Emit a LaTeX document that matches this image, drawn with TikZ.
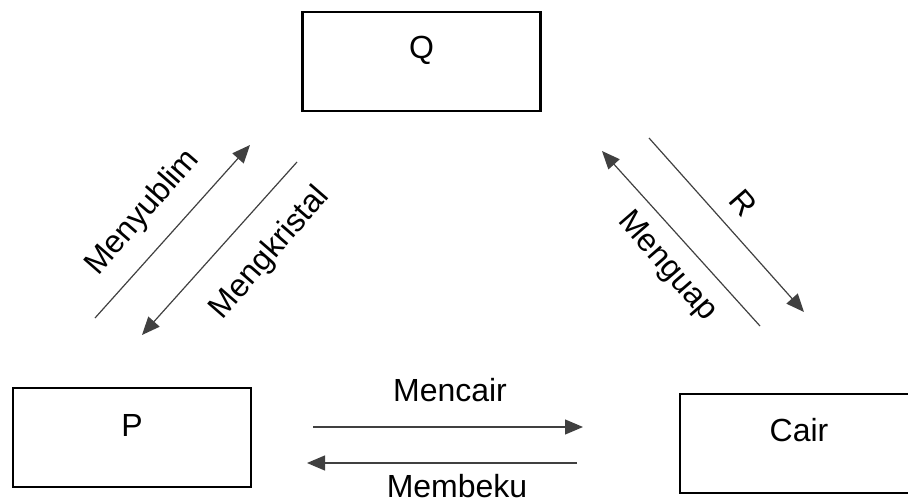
\documentclass[tikz,border=0pt]{standalone}
\usepackage{fontspec}
\setmainfont{Liberation Sans}
\usetikzlibrary{arrows.meta}

\begin{document}
\begin{tikzpicture}[x=1pt,y=-1pt]
\tikzstyle{box}=[draw, line width=2.6pt, minimum width=238pt, minimum height=99pt, inner sep=0pt]
\tikzstyle{txt}=[inner sep=0pt, font=\fontsize{32}{36}\selectfont]
\tikzstyle{arr}=[draw=black!75, line width=1.2pt, -{Triangle[length=18pt,width=15pt]}]
\useasboundingbox (0,0) rectangle (908,503);
\node (Q) at (421.5,61.5) [box] {};
\node (P) at (132,437.5) [box] {};
\node (C) at (799,443.5) [box] {};
\node (Qt) at ([yshift=11pt]Q.center) [txt] {Q};
\node (Pt) at ([yshift=12pt]P.center) [txt] {P};
\node (Ct) at ([yshift=13pt]C.center) [txt] {Cair};
% ends of the arrows
\coordinate (a1) at (95,318);  \coordinate (b1) at (250,145);
\coordinate (a2) at (297,162); \coordinate (b2) at (142,335);
\coordinate (a3) at (760,326); \coordinate (b3) at (602,151);
\coordinate (a4) at (649,138); \coordinate (b4) at (804,312);
\coordinate (a5) at (313,427); \coordinate (b5) at (583,427);
\coordinate (a6) at (577,463); \coordinate (b6) at (307,463);
\draw[arr] (a1) -- (b1);
\draw[arr] (a2) -- (b2);
\draw[arr] (a3) -- (b3);
\draw[arr] (a4) -- (b4);
\draw[arr] (a5) -- (b5);
\draw[arr] (a6) -- (b6);
\node (t1) at (143,213) [txt, rotate=49] {Menyublim};
\node (t2) at (270,253) [txt, rotate=49] {Mengkristal};
\node (t3) at (667,267) [txt, rotate=-49] {Menguap};
\node (t4) at (743,203) [txt, rotate=-49] {R};
\node (t5) at (450,390) [txt] {Mencair};
\node (t6) at (457,486) [txt] {Membeku};
\end{tikzpicture}
\end{document}
